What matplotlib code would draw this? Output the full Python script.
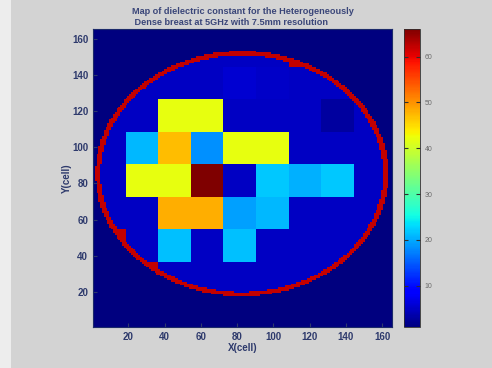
import numpy as np
import matplotlib.pyplot as plt
from matplotlib.patches import Rectangle

# simulation grid: 165 x 165 cells, permittivity assigned per 18-cell voxel
n_cells = 165
voxel = 18

# breast outline (cell units)
centre_x, centre_y = 82.7, 85.4
semi_x, semi_y = 79.4, 66.7
ring_width = 0.018

outside_eps = 1.0
tissue_eps = 5.0
skin_eps = 62.0

# voxels that differ from the background tissue: column, row (from lower left), value
voxel_col = [1, 0, 2, 4, 2, 3, 4, 5, 1, 2, 3, 4, 5, 6, 7, 1, 2, 3, 4, 5, 2, 3, 7, 4, 5, 6]
voxel_row = [1, 2, 2, 2, 3, 3, 3, 3, 4, 4, 4, 4, 4, 4, 4, 5, 5, 5, 5, 5, 6, 6, 6, 7, 7, 8]
voxel_eps = [62, 62, 21.5, 21.5, 48, 48, 19.5, 21, 42, 42, 66, 5, 22, 20.5, 22,
             21, 47, 18.5, 42, 42, 42, 42, 3, 5.8, 5.3, 62]

colorbar_ticks = [10, 20, 30, 40, 50, 60]
axis_ticks = [20, 40, 60, 80, 100, 120, 140, 160]

# expand voxel values onto the cell grid
n_vox = n_cells // voxel + 1
eps_vox = np.full((n_vox, n_vox), tissue_eps)
for c, r, v in zip(voxel_col, voxel_row, voxel_eps):
    eps_vox[r, c] = v
idx = np.arange(n_cells) // voxel
eps = eps_vox[np.ix_(idx, idx)]

cells = np.arange(1, n_cells + 1)
X, Y = np.meshgrid(cells, cells)
rad = np.sqrt(((X - centre_x) / semi_x) ** 2 + ((Y - centre_y) / semi_y) ** 2)
eps[rad > 1] = outside_eps
eps[np.abs(rad - 1) < ring_width] = skin_eps

text_col = '#2e3a6c'
plt.rcParams['font.family'] = ['Liberation Sans', 'DejaVu Sans']

fig = plt.figure(figsize=(4.92, 3.68), dpi=100, facecolor='#d3d3d3')
fig.add_artist(Rectangle((0, 0), 11 / 492, 1, transform=fig.transFigure,
                         facecolor='#ededed', edgecolor='none', zorder=0))

ax = fig.add_axes([93 / 492, 41 / 368, 299 / 492, 298 / 368])
im = ax.imshow(eps, origin='lower', cmap='jet', vmin=1, vmax=66,
               extent=(0.5, n_cells + 0.5, 0.5, n_cells + 0.5),
               interpolation='nearest', aspect='auto')
ax.set_xticks(axis_ticks)
ax.set_yticks(axis_ticks)
ax.tick_params(direction='in', length=3, colors=text_col, labelsize=7)
for lab in ax.get_xticklabels() + ax.get_yticklabels():
    lab.set_fontweight('bold')
for s in ax.spines.values():
    s.set_color('#1c2a6a')
    s.set_linewidth(0.8)
ax.set_xlabel('X(cell)', fontsize=7, fontweight='bold', color=text_col, labelpad=1)
ax.set_ylabel('Y(cell)', fontsize=7, fontweight='bold', color=text_col, labelpad=0)
ax.set_title('Map of dielectric constant for the Heterogeneously\n'
             ' Dense breast at 5GHz with 7.5mm resolution',
             fontsize=6.6, fontweight='bold', color='#3a4679',
             multialignment='left', pad=3)

cax = fig.add_axes([404 / 492, 41 / 368, 16 / 492, 298 / 368])
cb = fig.colorbar(im, cax=cax)
cb.set_ticks(colorbar_ticks)
cax.tick_params(direction='in', length=3, left=True, right=True,
                labelsize=5, labelcolor='#6a6a6a', color='#303030')
cb.outline.set_edgecolor('#303030')
cb.outline.set_linewidth(0.6)

fig.savefig('out.png', dpi=100, facecolor=fig.get_facecolor())
